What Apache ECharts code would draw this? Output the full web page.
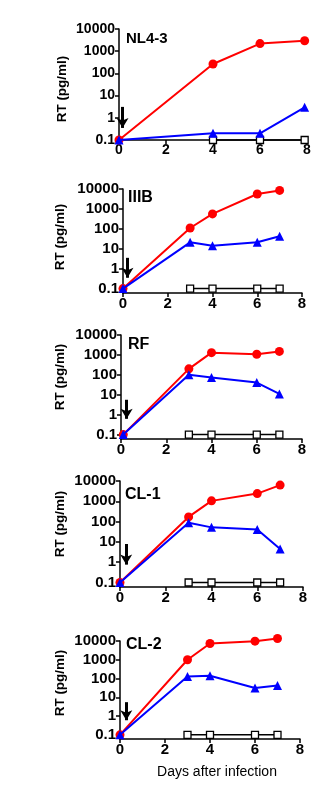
<!DOCTYPE html>
<html>
<head>
<meta charset="utf-8">
<script src="https://cdn.jsdelivr.net/npm/echarts@6/dist/echarts.min.js"></script>
<style>
html,body{margin:0;padding:0;background:#fff;}
#c{width:334px;height:786px;}
</style>
</head>
<body>
<div id="c"></div>
<script>
// ---- data ----
const panelNames = ['NL4-3', 'IIIB', 'RF', 'CL-1', 'CL-2'];
const redDays  = [[0, 4, 6, 7.9], [0, 3, 4, 6, 7], [0.1, 3, 4, 6, 7], [0, 3, 4, 6, 7], [0, 3, 4, 6, 7]];
const redRT    = [[0.1, 265, 2200, 2950], [0.1, 110, 560, 5600, 8500], [0.1, 200, 1300, 1080, 1500], [0.1, 170, 1050, 2400, 6300], [0.1, 1000, 7400, 9800, 13500]];
const blueDays = [[0, 4, 6, 7.9], [0, 3, 4, 6, 7], [0.1, 3, 4, 6, 7], [0, 3, 4, 6, 7], [0, 3, 4, 6, 7]];
const blueRT   = [[0.1, 0.2, 0.2, 2.95], [0.1, 21, 14, 21, 42], [0.1, 100, 74, 41, 11], [0.1, 87, 52, 41, 4.5], [0.1, 130, 140, 31, 43]];
const mockDays = [[4, 6, 7.9], [3, 4, 6, 7], [3, 4, 6, 7], [3, 4, 6, 7], [3, 4, 6, 7]];
const mockRT   = [[0.1, 0.1, 0.1], [0.1, 0.1, 0.1, 0.1], [0.1, 0.1, 0.1, 0.1], [0.1, 0.1, 0.1, 0.1], [0.1, 0.1, 0.1, 0.1]];
// arrow annotation: [day, start RT, end RT]
const arrowMarks = [[0.15, 3.1, 0.35], [0.2, 3.5, 0.35], [0.25, 5.6, 0.62], [0.27, 7.9, 0.76], [0.28, 5.5, 0.6]];
const yTicks = [0.1, 1, 10, 100, 1000, 10000];
const yMin = [0.1, 0.06, 0.06, 0.06, 0.06];
const yTitle = 'RT (pg/ml)';
const xTitle = 'Days after infection';

// ---- layout ----
const grids = [
  {left: 119, top: 29, width: 188, height: 111},
  {left: 123, top: 189, width: 179, height: 104},
  {left: 121, top: 335, width: 181, height: 104},
  {left: 120, top: 481, width: 183, height: 106},
  {left: 120, top: 641, width: 180, height: 98}
];
const labelSize = [14, 15, 15, 15, 15];
const titlePos = [[126, 38.5, 15], [128, 197.5, 16], [128, 345, 16], [125, 495, 16], [126, 645, 16]];
const yTitlePos = [[62, 89], [60, 237], [60, 377], [60, 524], [60, 683]];
const FONT = '"Liberation Sans", Arial, sans-serif';

const zip = (a, b) => a.map((v, i) => [v, b[i]]);

const option = {
  animation: false,
  backgroundColor: '#fff',
  grid: grids.map(g => Object.assign({containLabel: false, outerBoundsMode: 'none'}, g)),
  xAxis: grids.map((g, i) => ({
    type: 'value', gridIndex: i, min: 0, max: 8, interval: 2,
    axisLine: {lineStyle: {color: '#000', width: 1.5}},
    axisTick: {length: 4, lineStyle: {color: '#000', width: 1.5}},
    axisLabel: {color: '#000', fontFamily: FONT, fontWeight: 'bold', fontSize: labelSize[i], margin: 3},
    splitLine: {show: false}
  })),
  yAxis: grids.map((g, i) => ({
    type: 'log', gridIndex: i, min: yMin[i], max: 10000, logBase: 10,
    axisLine: {show: true, lineStyle: {color: '#000', width: 1.5}},
    axisTick: {show: true, length: 4, customValues: yTicks, lineStyle: {color: '#000', width: 1.5}},
    axisLabel: {color: '#000', fontFamily: FONT, fontWeight: 'bold', fontSize: labelSize[i], margin: 4,
      customValues: yTicks,
      formatter: v => v < 1 ? v.toFixed(1) : String(Math.round(v))},
    splitLine: {show: false},
    minorTick: {show: false}
  })),
  series: [],
  graphic: []
};

grids.forEach((g, i) => {
  option.series.push({
    type: 'line', xAxisIndex: i, yAxisIndex: i, data: zip(mockDays[i], mockRT[i]), clip: false,
    symbol: 'rect', symbolSize: 7,
    itemStyle: {color: '#fff', borderColor: '#000', borderWidth: 1.3},
    lineStyle: {color: '#000', width: 1.5}, z: 2,
    markLine: {
      silent: true, symbol: ['none', 'arrow'], symbolSize: [9, 10],
      label: {show: false},
      lineStyle: {color: '#000', width: 3, type: 'solid'},
      data: [[{coord: [arrowMarks[i][0], arrowMarks[i][1]]}, {coord: [arrowMarks[i][0], arrowMarks[i][2]]}]]
    }
  });
  option.series.push({
    type: 'line', xAxisIndex: i, yAxisIndex: i, data: zip(redDays[i], redRT[i]), clip: false,
    symbol: 'circle', symbolSize: 9,
    itemStyle: {color: '#ff0000'}, lineStyle: {color: '#ff0000', width: 2}, z: 3
  });
  option.series.push({
    type: 'line', xAxisIndex: i, yAxisIndex: i, data: zip(blueDays[i], blueRT[i]), clip: false,
    symbol: 'triangle', symbolSize: 9,
    itemStyle: {color: '#0000ff'}, lineStyle: {color: '#0000ff', width: 2}, z: 4
  });
  option.graphic.push({
    type: 'text', x: titlePos[i][0], y: titlePos[i][1],
    style: {text: panelNames[i], font: 'bold ' + titlePos[i][2] + 'px ' + FONT, fill: '#000', verticalAlign: 'middle', align: 'left'}
  });
  option.graphic.push({
    type: 'text', x: yTitlePos[i][0], y: yTitlePos[i][1], rotation: Math.PI / 2,
    style: {text: yTitle, font: 'bold 13.5px ' + FONT, fill: '#000', verticalAlign: 'middle', align: 'center'}
  });
});
option.graphic.push({
  type: 'text', x: 217, y: 772,
  style: {text: xTitle, font: '14px ' + FONT, fill: '#000', verticalAlign: 'middle', align: 'center'}
});

const chart = echarts.init(document.getElementById('c'), null, {renderer: 'canvas'});
chart.setOption(option);
</script>
</body>
</html>
